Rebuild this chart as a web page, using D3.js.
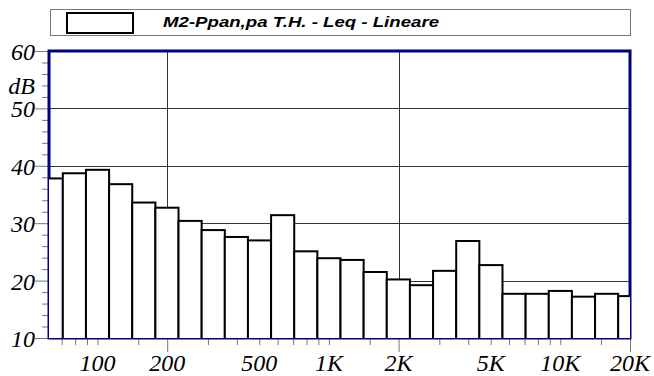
<!DOCTYPE html>
<html>
<head>
<meta charset="utf-8">
<script src="https://cdn.jsdelivr.net/npm/d3@7"></script>
<style>
    body { margin: 0; background: #fff; }
</style>
</head>
<body>
<svg></svg>
<script>
//constants
const W = 654, H = 376;
const plot = {left: 49, right: 630, top: 51, bottom: 338};
const serif = "'Liberation Serif', 'Times New Roman', serif";

//data: 1/3 octave bands (Hz) and Leq levels (dB)
const bands = ["63", "80", "100", "125", "160", "200", "250", "315", "400", "500", "630", "800",
    "1K", "1.25K", "1.6K", "2K", "2.5K", "3.15K", "4K", "5K", "6.3K", "8K", "10K", "12.5K", "16K", "20K"];
const levels = [37.8, 38.7, 39.3, 36.8, 33.6, 32.7, 30.4, 28.8, 27.6, 27.0, 31.4, 25.1,
    23.9, 23.6, 21.5, 20.2, 19.2, 21.7, 26.9, 22.7, 17.7, 17.7, 18.2, 17.2, 17.7, 17.3];

const yMajor = [10, 20, 30, 40, 50, 60];
const yMinor = [12, 14, 16, 18, 22, 24, 26, 28, 32, 34, 36, 38, 42, 44, 46, 48, 52, 54, 56, 58];
const xMajor = [200, 2000, 20000];
const xMinor = [70, 80, 90, 100, 150, 300, 400, 500, 600, 700, 800, 900, 1000, 1500,
    3000, 4000, 5000, 6000, 7000, 8000, 9000, 10000, 15000];
const xLabels = [100, 200, 500, 1000, 2000, 5000, 10000, 20000];
const xLabelText = ["100", "200", "500", "1K", "2K", "5K", "10K", "20K"];
const legendLabel = "M2-Ppan,pa T.H. - Leq - Lineare";

//band centre from index (1K is index 12), edges at +-1/6 octave
const centre = i => 1000 * Math.pow(10, (i - 12) / 10);
const data = levels.map((v, i) => ({
    band: bands[i],
    lo: centre(i) * Math.pow(10, -0.05),
    hi: centre(i) * Math.pow(10, 0.05),
    value: v
}));

//scales
var xScale = d3.scaleLog()
    .domain([61.7, 20000])
    .range([plot.left, plot.right]);

var yScale = d3.scaleLinear()
    .domain([10, 60])
    .range([plot.bottom, plot.top]);

//canvas
let svg = d3.select("svg")
    .attr("width", W)
    .attr("height", H);

svg.append("defs")
    .append("clipPath")
    .attr("id", "clip")
    .append("rect")
    .attr("x", plot.left)
    .attr("y", plot.top)
    .attr("width", plot.right - plot.left)
    .attr("height", plot.bottom - plot.top);

//legend
svg.append("rect")
    .attr("x", 50.5).attr("y", 9.5)
    .attr("width", 580).attr("height", 26)
    .attr("fill", "#fff")
    .attr("stroke", "#777")
    .attr("stroke-width", 1);

svg.append("rect")
    .attr("x", 67).attr("y", 13)
    .attr("width", 66).attr("height", 20)
    .attr("fill", "#fff")
    .attr("stroke", "#000")
    .attr("stroke-width", 2);

svg.append("text")
    .attr("x", 163)
    .attr("y", 26.5)
    .attr("textLength", 276)
    .attr("lengthAdjust", "spacingAndGlyphs")
    .style("font-family", "'Liberation Sans', Arial, sans-serif")
    .style("font-style", "italic")
    .style("font-weight", "bold")
    .style("font-size", "15.5px")
    .text(legendLabel);

//grid
svg.append("g")
    .attr("class", "grid")
    .selectAll("line")
    .data(yMajor.filter(d => d > 10 && d < 60))
    .enter()
    .append("line")
    .attr("x1", plot.left).attr("x2", plot.right)
    .attr("y1", d => Math.round(yScale(d)) + 0.5)
    .attr("y2", d => Math.round(yScale(d)) + 0.5)
    .attr("stroke", "#333");

svg.append("g")
    .attr("class", "grid")
    .selectAll("line")
    .data(xMajor.slice(0, 2))
    .enter()
    .append("line")
    .attr("x1", d => Math.round(xScale(d)) + 0.5)
    .attr("x2", d => Math.round(xScale(d)) + 0.5)
    .attr("y1", plot.top).attr("y2", plot.bottom)
    .attr("stroke", "#333");

//axes (ticks only)
function ticks(g) {
    g.select(".domain").remove();
    g.selectAll(".tick line").attr("stroke", "#777");
}

svg.append("g")
    .attr("transform", "translate(" + plot.left + ",0)")
    .call(d3.axisLeft(yScale).tickValues(yMinor).tickSize(7).tickFormat(""))
    .call(ticks);

var gY = svg.append("g")
    .attr("transform", "translate(" + plot.left + ",0)")
    .call(d3.axisLeft(yScale).tickValues(yMajor).tickSize(14).tickPadding(0).tickFormat(d3.format("d")))
    .call(ticks);

gY.selectAll(".tick text")
    .attr("dy", null)
    .attr("y", 8.5)
    .attr("x", -14)
    .style("font-family", serif)
    .style("font-style", "italic")
    .style("font-size", "24px")
    .style("fill", "#000");

svg.append("g")
    .attr("transform", "translate(0," + plot.bottom + ")")
    .call(d3.axisBottom(xScale).tickValues(xMinor).tickSize(7).tickFormat(""))
    .call(ticks);

svg.append("g")
    .attr("transform", "translate(0," + plot.bottom + ")")
    .call(d3.axisBottom(xScale).tickValues(xMajor).tickSize(14).tickFormat(""))
    .call(ticks);

svg.append("g")
    .selectAll("text")
    .data(xLabels)
    .enter()
    .append("text")
    .attr("x", d => xScale(d))
    .attr("y", 371)
    .attr("text-anchor", "middle")
    .style("font-family", serif)
    .style("font-style", "italic")
    .style("font-size", "24px")
    .text((d, i) => xLabelText[i]);

//unit label
svg.append("text")
    .attr("x", 35)
    .attr("y", 94)
    .attr("text-anchor", "end")
    .style("font-family", serif)
    .style("font-style", "italic")
    .style("font-size", "24px")
    .text("dB");

//frame
svg.append("rect")
    .attr("x", plot.left).attr("y", plot.top)
    .attr("width", plot.right - plot.left)
    .attr("height", plot.bottom - plot.top)
    .attr("fill", "none")
    .attr("stroke", "#000080")
    .attr("stroke-width", 3);

//bars
svg.append("g")
    .attr("class", "chart")
    .attr("clip-path", "url(#clip)")
    .selectAll(".bar")
    .data(data)
    .enter()
    .append("rect")
    .attr("class", "bar")
    .attr("x", d => xScale(d.lo))
    .attr("width", d => xScale(d.hi) - xScale(d.lo))
    .attr("y", d => yScale(d.value))
    .attr("height", d => yScale(0) - yScale(d.value))
    .attr("fill", "#fff")
    .attr("stroke", "#000")
    .attr("stroke-width", 2);
</script>
</body>
</html>
